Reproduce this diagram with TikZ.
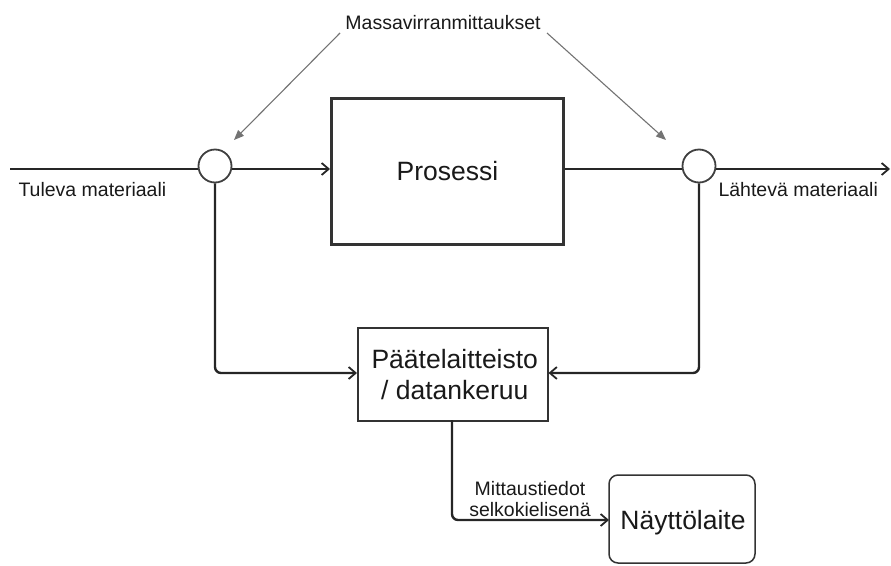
\documentclass[tikz,border=0pt]{standalone}
\usepackage{fontspec}
\setmainfont{Liberation Sans}
\usetikzlibrary{arrows.meta}
\begin{document}
\begin{tikzpicture}[x=1pt,y=-1pt,
  flow/.style={draw=black!85,line width=2.4pt,-{Straight Barb[length=7pt,width=12pt,line width=1.8pt]},rounded corners=6pt},
  pointer/.style={draw=black!55,line width=1.1pt,-{Triangle[length=10pt,width=8pt]}},
  sensor/.style={circle,draw=black!75,line width=1.8pt,fill=white,minimum size=33pt,inner sep=0pt},
  bigbox/.style={draw=black!80,line width=2.8pt,inner sep=0pt},
  box/.style={draw=black!80,line width=1.5pt,inner sep=0pt},
  small/.style={font=\fontsize{19.5}{23}\selectfont,text=black!90},
  big/.style={font=\fontsize{26.5}{31}\selectfont,text=black!90}]
\useasboundingbox (0,0) rectangle (891,565);
% boxes
\node[bigbox,minimum width=232pt,minimum height=146pt,anchor=north west] (proc) at (330,97) {};
\node[big] at (proc.center) {Prosessi};
\node[box,minimum width=190pt,minimum height=93pt,anchor=north west] (term) at (357,327) {};
\node[big,align=center,font=\fontsize{26.5}{31}\selectfont] at ([xshift=2pt]term.center) {Päätelaitteisto\\ / datankeruu};
\draw[box,rounded corners=9pt] (609,475) rectangle (755,563);
\node[box,draw=none,minimum width=146pt,minimum height=88pt,anchor=north west] (disp) at (609,475) {};
\node[big] at (683,523) {Näyttölaite};
% sensors
\coordinate (in) at (10,169);
\coordinate (out) at (890,169);
\node[sensor] (s1) at (215,166) {};
\node[sensor] (s2) at (699,166) {};
% main line
\draw[flow,-] (in) -- (s1.west |- in);
\draw[flow] (s1.east |- in) -- (proc.west |- in);
\draw[flow,-] (proc.east |- in) -- (s2.west |- in);
\draw[flow] (s2.east |- in) -- (out);
% to terminal
\draw[flow] (s1.south) -- (215,373) -- (term.west |- 0,373);
\draw[flow] (s2.south) -- (699,373) -- (term.east |- 0,373);
% to display
\draw[flow] (452,420) -- (452,520) -- (disp.west |- 0,520);
% labels
\node[small,anchor=west] (tl) at (15,190) {Tuleva materiaali};
\node[small,anchor=west] (ll) at (715,190) {Lähtevä materiaali};
\node[small] (mv) at (443,23) {Massavirranmittaukset};
\node[small,align=center,font=\fontsize{19.5}{20.5}\selectfont] (mt) at (530,499) {Mittaustiedot\\selkokielisenä};
\coordinate (p1) at (340,33);
\coordinate (p2) at (547,33);
\coordinate (q1) at (234,140);
\coordinate (q2) at (666,140);
\draw[pointer] (p1) -- (q1);
\draw[pointer] (p2) -- (q2);
\end{tikzpicture}
\end{document}
